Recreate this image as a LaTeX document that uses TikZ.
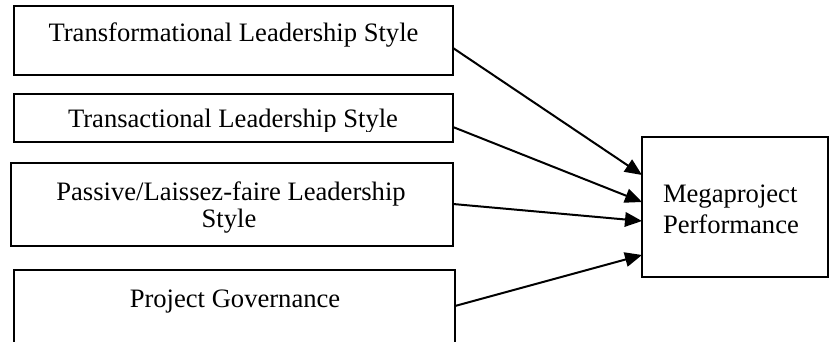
\documentclass[tikz,border=0pt]{standalone}
\usepackage{fontspec}
\setmainfont{Liberation Serif}
\usetikzlibrary{arrows.meta}

\begin{document}
\begin{tikzpicture}[x=1pt,y=-1pt,
  box/.style={draw=black, line width=1.1pt, rectangle, inner sep=0pt, outer sep=0pt},
  lbl/.style={inner sep=0pt, outer sep=0pt, font=\fontsize{26.6}{30}\selectfont},
  link/.style={draw=black, line width=2pt, -{Triangle[length=17pt,width=14.5pt]}}
]
\useasboundingbox (0,0) rectangle (829,342);

% predictor boxes
\node[box, minimum width=439pt, minimum height=69pt] (b1) at (233.5,40.5) {};
\node[box, minimum width=439pt, minimum height=48pt] (b2) at (233.5,118) {};
\node[box, minimum width=442pt, minimum height=83pt] (b3) at (232,204.5) {};
\node[box, minimum width=441pt, minimum height=80pt] (b4) at (234.5,310) {};
% outcome box
\node[box, minimum width=186pt, minimum height=140pt] (mp) at (735,207) {};

% labels
\node[lbl, anchor=base] (t1) at (233.5,42) {Transformational Leadership Style};
\begin{scope}
  \clip (14,94) rectangle (453,131);
  \node[lbl, anchor=base] (t2) at (233,128) {Transactional Leadership Style};
\end{scope}
\node[lbl, anchor=base] (t3a) at (231,200) {Passive/Laissez-faire Leadership};
\node[lbl, anchor=base] (t3b) at (229,227.5) {Style};
\node[lbl, anchor=base] (t4) at (235,307) {Project Governance};
\node[lbl, anchor=base west] (tm1) at (663,202) {Megaproject};
\node[lbl, anchor=base west] (tm2) at (663,233) {Performance};

% connectors
\draw[link] ([yshift=-7.5pt]b1.east) -- ([yshift=32pt]mp.west);
\draw[link] ([yshift=-9pt]b2.east) -- ([yshift=5pt]mp.west);
\draw[link] ([yshift=0.5pt]b3.east) -- ([yshift=-14pt]mp.west);
\draw[link] ([yshift=4pt]b4.east) -- ([yshift=-48pt]mp.west);
\end{tikzpicture}
\end{document}
